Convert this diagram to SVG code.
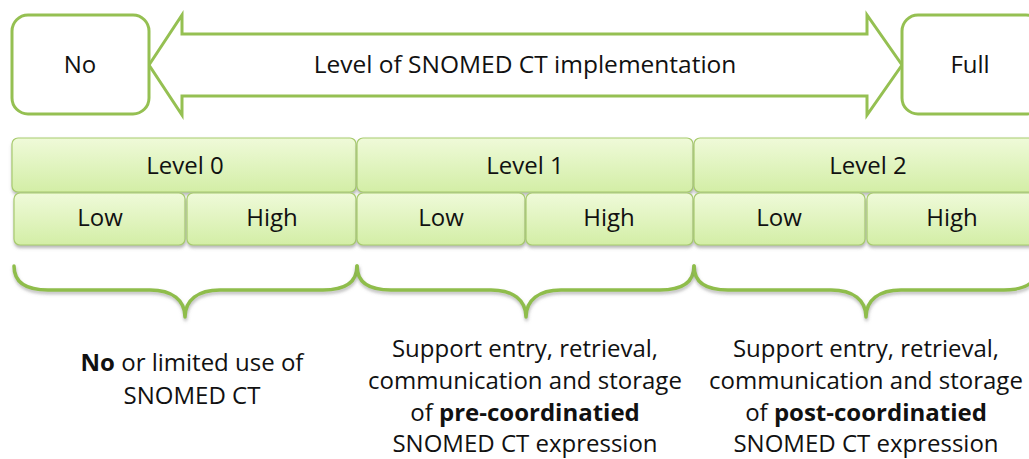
<svg xmlns="http://www.w3.org/2000/svg" width="1029" height="459" viewBox="0 0 1029 459">
<defs>
<linearGradient id="gf" x1="0" y1="0" x2="0" y2="1">
<stop offset="0" stop-color="#effad9"/>
<stop offset="1" stop-color="#d3eea6"/>
</linearGradient>
<filter id="sh" x="-5%" y="-20%" width="110%" height="150%">
<feDropShadow dx="0.5" dy="2.5" stdDeviation="1.6" flood-color="#7a7a7a" flood-opacity="0.55"/>
</filter>
<filter id="bsh" x="-5%" y="-20%" width="110%" height="150%">
<feDropShadow dx="0.5" dy="2.5" stdDeviation="1.4" flood-color="#7a7a7a" flood-opacity="0.5"/>
</filter>
</defs>
<style>
text{font-family:"Open Sans","Liberation Sans",sans-serif;font-size:24px;fill:#111;text-anchor:middle}
.t{font-size:24.5px}
.b{font-weight:bold}
.end{fill:#fff;stroke:#95c052;stroke-width:3}
.lvl{fill:url(#gf);stroke:#a8cb6e;stroke-width:1.2;filter:url(#sh)}
.brace{fill:none;stroke:#8fbd4b;stroke-width:3.5;stroke-linecap:round;stroke-linejoin:round;filter:url(#bsh)}
</style>
<rect width="1029" height="459" fill="#fff"/>

<g id="arrow">
<path class="end" d="M149,65 L182,15 L182,34 L867,34 L867,15 L902,65 L867,115 L867,96 L182,96 L182,115 Z"/>
<text class="t" x="525" y="73">Level of SNOMED CT implementation</text>
</g>
<g id="node-no">
<rect class="end" x="12" y="15" width="137" height="99" rx="16"/>
<text x="80" y="73">No</text>
</g>
<g id="node-full">
<rect class="end" x="902" y="15" width="140" height="99" rx="16"/>
<text x="970" y="73">Full</text>
</g>

<g id="level0">
<rect class="lvl" x="12" y="138" width="344" height="54" rx="6"/>
<text x="185" y="174">Level 0</text>
</g>
<g id="level1">
<rect class="lvl" x="357" y="138" width="336" height="54" rx="6"/>
<text x="525" y="174">Level 1</text>
</g>
<g id="level2">
<rect class="lvl" x="694" y="138" width="346" height="54" rx="6"/>
<text x="868" y="174">Level 2</text>
</g>

<g id="l0-low">
<rect class="lvl" x="14" y="193" width="171" height="52" rx="6"/>
<text x="100" y="226">Low</text>
</g>
<g id="l0-high">
<rect class="lvl" x="187" y="193" width="169" height="52" rx="6"/>
<text x="272" y="226">High</text>
</g>
<g id="l1-low">
<rect class="lvl" x="357" y="193" width="168" height="52" rx="6"/>
<text x="441" y="226">Low</text>
</g>
<g id="l1-high">
<rect class="lvl" x="526" y="193" width="167" height="52" rx="6"/>
<text x="609" y="226">High</text>
</g>
<g id="l2-low">
<rect class="lvl" x="694" y="193" width="171" height="52" rx="6"/>
<text x="779" y="226">Low</text>
</g>
<g id="l2-high">
<rect class="lvl" x="867" y="193" width="173" height="52" rx="6"/>
<text x="952" y="226">High</text>
</g>

<g id="braces">
<path class="brace" d="M14,266 C14,282 26,290 48,290 L150,290 C172,290 185,300 185,317 C185,300 198,290 220,290 L323,290 C345,290 357,282 357,266"/>
<path class="brace" d="M357,266 C357,282 369,290 391,290 L491,290 C513,290 526,300 526,317 C526,300 539,290 561,290 L660,290 C682,290 694,282 694,266"/>
<path class="brace" d="M694,266 C694,282 706,290 728,290 L831,290 C853,290 866,300 866,317 C866,300 879,290 901,290 L1004,290 C1026,290 1038,282 1038,266"/>
</g>

<g id="desc0">
<text x="192" y="371"><tspan class="b">No</tspan> or limited use of</text>
<text x="192" y="404">SNOMED CT</text>
</g>
<g id="desc1">
<text x="525" y="357">Support entry, retrieval,</text>
<text x="525" y="389">communication and storage</text>
<text x="525" y="421">of <tspan class="b">pre-coordinatied</tspan></text>
<text x="525" y="452">SNOMED CT expression</text>
</g>
<g id="desc2">
<text x="866" y="357">Support entry, retrieval,</text>
<text x="866" y="389">communication and storage</text>
<text x="866" y="421">of <tspan class="b">post-coordinatied</tspan></text>
<text x="866" y="452">SNOMED CT expression</text>
</g>
</svg>
